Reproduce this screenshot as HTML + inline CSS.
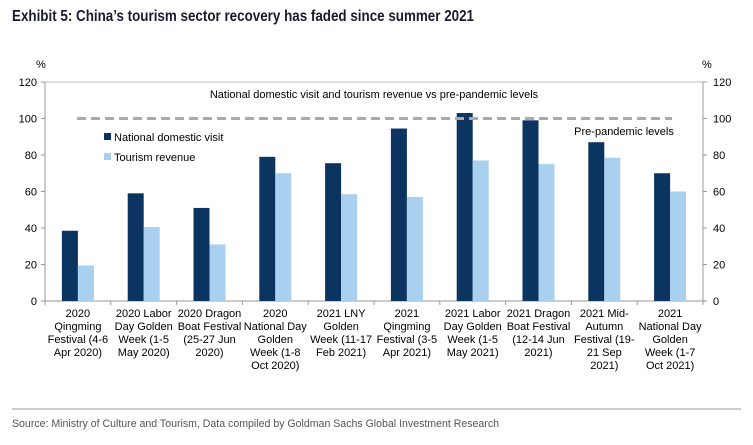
<!DOCTYPE html>
<html><head><meta charset="utf-8"><style>
body{margin:0;background:#fff;font-family:"Liberation Sans",Arial,sans-serif;}
svg text{font-family:"Liberation Sans",Arial,sans-serif;}
</style></head><body>
<svg width="753" height="440" xmlns="http://www.w3.org/2000/svg">
<text x="12" y="21" font-size="16" font-weight="bold" fill="#1a1a2e" textLength="462" lengthAdjust="spacingAndGlyphs">Exhibit 5: China’s tourism sector recovery has faded since summer 2021</text>
<text x="36" y="68" font-size="11">%</text>
<text x="702" y="68" font-size="11">%</text>
<g id="axes"></g>
<g id="bars"></g>
<text x="374" y="98" font-size="11" text-anchor="middle">National domestic visit and tourism revenue vs pre-pandemic levels</text>
<text x="624" y="135" font-size="11" text-anchor="middle">Pre-pandemic levels</text>
<rect x="104" y="133" width="7" height="7" fill="#0b3460"/>
<text x="114" y="141" font-size="11">National domestic visit</text>
<rect x="104" y="153" width="7" height="7" fill="#a9d0ee"/>
<text x="114" y="161" font-size="11">Tourism revenue</text>
<line x1="12" y1="409" x2="741" y2="409" stroke="#999" stroke-width="1"/>
<text x="12" y="427" font-size="11" fill="#555" textLength="487" lengthAdjust="spacingAndGlyphs">Source: Ministry of Culture and Tourism, Data compiled by Goldman Sachs Global Investment Research</text>
</svg>
<script>
const categories=[["2020","Qingming","Festival (4-6","Apr 2020)"],["2020 Labor","Day Golden","Week (1-5","May 2020)"],["2020 Dragon","Boat Festival","(25-27 Jun","2020)"],["2020","National Day","Golden","Week (1-8","Oct 2020)"],["2021 LNY","Golden","Week (11-17","Feb 2021)"],["2021","Qingming","Festival (3-5","Apr 2021)"],["2021 Labor","Day Golden","Week (1-5","May 2021)"],["2021 Dragon","Boat Festival","(12-14 Jun","2021)"],["2021 Mid-","Autumn","Festival (19-","21 Sep","2021)"],["2021","National Day","Golden","Week (1-7","Oct 2021)"]];
const visits=[38.5,59,51,79,75.5,94.5,103,99,87,70];
const revenue=[19.5,40.5,31,70,58.5,57,77,75,78.5,60];
const ticks=[0,20,40,60,80,100,120];
const prePandemic=100;
const NS="http://www.w3.org/2000/svg";
const L=45,R=703,T=82,B=301,ymax=120;
const y=v=>B-(v/ymax)*(B-T);
const bw=(R-L)/categories.length;
const x=i=>L+i*bw;
function mk(tag,attrs,parent){const e=document.createElementNS(NS,tag);for(const k in attrs)e.setAttribute(k,attrs[k]);parent.appendChild(e);return e;}
const ax=document.getElementById('axes'),bg=document.getElementById('bars');
let e;
e=mk('line',{x1:L,y1:T,x2:R,y2:T,stroke:'#bbb'},ax);


e=mk('line',{x1:L,y1:T,x2:L,y2:B,stroke:'#999'},ax);


e=mk('line',{x1:R,y1:T,x2:R,y2:B,stroke:'#999'},ax);


e=mk('line',{x1:L,y1:B,x2:R,y2:B,stroke:'#999'},ax);


ticks.forEach(t=>{
 e=mk('line',{x1:L-4,y1:y(t),x2:L,y2:y(t),stroke:'#999'},ax);
 
 
 e=mk('line',{x1:R,y1:y(t),x2:R+4,y2:y(t),stroke:'#999'},ax);
 
 
 e=mk('text',{x:L-8,y:y(t)+4,'font-size':11,'text-anchor':'end'},ax);e.textContent=t;
 
 
 e=mk('text',{x:R+10,y:y(t)+4,'font-size':11},ax);e.textContent=t;
 
 
});
for(let i=0;i<=categories.length;i++){
 e=mk('line',{x1:x(i),y1:B,x2:x(i),y2:B+4,stroke:'#999'},ax);
 
 
}
categories.forEach((c,i)=>{
 const cx=x(i)+bw/2;
 e=mk('rect',{x:cx-16,y:y(visits[i]),width:16,height:B-y(visits[i]),fill:'#0b3460'},bg);
 
 
 e=mk('rect',{x:cx,y:y(revenue[i]),width:16,height:B-y(revenue[i]),fill:'#a9d0ee'},bg);
 
 
 e=mk('text',{x:cx,y:B+16,'font-size':11,'text-anchor':'middle'},ax);
 
 
 c.forEach((ln,j)=>{const s=mk('tspan',{x:cx,dy:j?13:0},e);s.textContent=ln;});
});
e=mk('line',{x1:77,y1:y(prePandemic),x2:672,y2:y(prePandemic),stroke:'#aaa','stroke-width':3,'stroke-dasharray':'9,5'},bg);


</script>
</body></html>
